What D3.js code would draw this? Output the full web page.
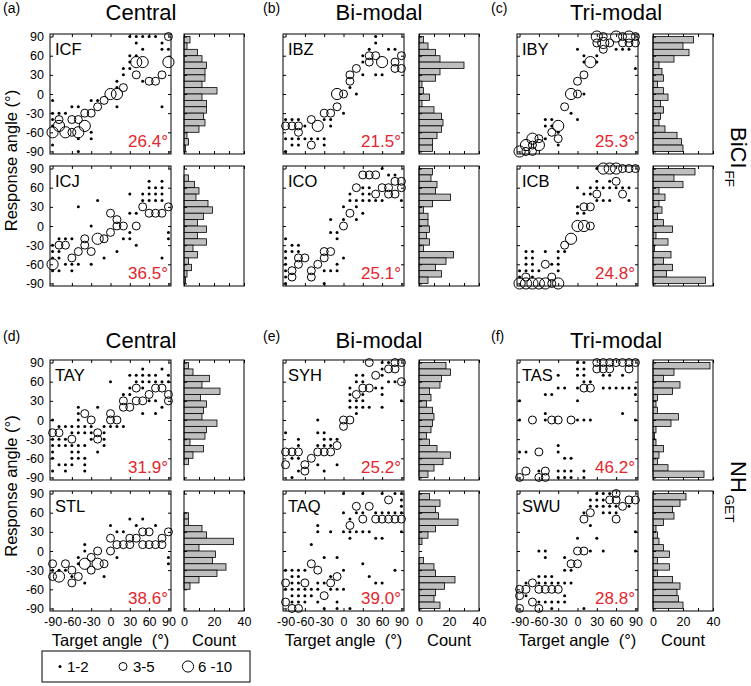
<!DOCTYPE html>
<html><head><meta charset="utf-8">
<script src="https://cdn.jsdelivr.net/npm/d3@7"></script>
<style>body{margin:0;background:#fff} text{font-family:"Liberation Sans",Arial,sans-serif}</style>
</head><body><svg id="c" width="751" height="686"></svg>
<script>
// size class: 1 = 1-2 responses (dot), 2 = 3-5 (medium circle), 3 = 6-10 (large circle)
const pts_ICF = [[30,90,1],[40,90,1],[50,90,1],[60,90,1],[70,90,1],[90,90,2],[40,80,1],[80,80,1],[50,70,1],[80,70,1],[90,70,1],[30,60,1],[40,60,1],[30,50,1],[40,50,3],[50,50,3],[90,50,3],[20,40,1],[30,40,1],[20,30,1],[40,30,2],[80,30,2],[10,20,1],[50,20,1],[60,20,2],[70,20,2],[10,10,1],[20,10,2],[0,0,3],[10,0,3],[-10,-10,2],[-20,-10,1],[-30,-10,1],[-90,-10,1],[10,-20,1],[80,-20,1],[-20,-20,2],[-60,-20,1],[-50,-20,1],[-40,-30,2],[-30,-30,2],[-90,-30,1],[-80,-30,1],[-70,-30,1],[-80,-40,2],[-60,-40,2],[-50,-40,2],[-90,-40,1],[-90,-50,1],[-80,-50,3],[-40,-50,3],[-90,-60,3],[-70,-60,3],[-60,-60,2],[-50,-60,3],[-30,-60,1],[-30,-70,1],[-50,-70,1],[-90,-80,1],[-50,-90,1]];
const pts_ICJ = [[60,70,1],[80,70,1],[60,60,1],[70,60,1],[80,60,1],[30,50,1],[50,50,1],[60,50,1],[70,50,1],[80,50,1],[-20,40,1],[50,40,1],[60,40,1],[70,40,1],[80,40,1],[-50,30,1],[50,30,2],[90,30,2],[60,20,2],[70,20,2],[80,20,2],[0,20,2],[30,20,1],[40,20,1],[10,10,2],[10,0,2],[20,0,2],[40,0,2],[-30,0,1],[0,-10,2],[30,-10,1],[90,-10,1],[90,-20,1],[-20,-20,3],[-10,-20,2],[-40,-20,2],[20,-20,1],[30,-20,1],[-80,-20,1],[-70,-20,1],[-60,-20,1],[-40,-30,2],[-80,-30,2],[-70,-30,2],[40,-30,1],[-90,-30,1],[-50,-40,2],[-30,-40,2],[10,-40,1],[-90,-40,1],[-80,-40,1],[-60,-50,2],[-10,-50,1],[80,-50,1],[-90,-50,1],[-80,-50,1],[-90,-60,3],[-70,-60,1],[-60,-60,1],[-50,-60,1],[-30,-60,1],[-90,-70,1],[-80,-70,1],[-60,-70,1]];
const pts_IBZ = [[50,90,1],[50,80,1],[40,70,1],[70,70,1],[80,70,1],[40,60,2],[50,60,2],[30,60,1],[90,60,2],[60,50,3],[40,50,2],[80,50,2],[30,50,1],[20,40,2],[80,40,2],[90,40,2],[10,30,2],[30,30,1],[50,30,1],[60,30,1],[10,20,2],[10,10,1],[-10,0,3],[0,0,2],[20,0,1],[-10,-20,2],[-20,-30,2],[-30,-30,2],[0,-30,1],[-50,-40,2],[-30,-40,1],[-20,-40,1],[-90,-40,1],[-80,-40,1],[-70,-40,1],[-40,-50,3],[-20,-50,1],[-90,-50,2],[-80,-50,2],[-70,-50,2],[-60,-50,1],[-70,-60,2],[-90,-70,1],[-80,-70,1],[-70,-70,1],[-60,-70,1],[-50,-70,1],[-40,-70,1],[-30,-70,1],[-50,-80,2],[-80,-80,1],[-70,-80,1],[-30,-80,1],[-90,-90,1]];
const pts_ICO = [[60,90,1],[30,80,2],[40,80,2],[50,80,2],[70,80,1],[80,80,1],[80,70,2],[90,70,2],[60,60,2],[70,60,2],[20,60,2],[90,60,2],[30,60,1],[40,60,1],[50,50,2],[70,50,2],[80,50,2],[10,50,1],[30,50,1],[40,50,1],[10,40,1],[20,40,1],[30,40,1],[40,40,1],[50,40,1],[60,40,1],[90,40,1],[0,30,1],[20,30,1],[10,20,2],[30,20,1],[0,10,1],[20,10,1],[-20,10,1],[0,0,2],[-20,-10,1],[-10,-10,1],[-10,-20,1],[-90,-20,1],[-80,-30,1],[-70,-30,1],[-90,-40,1],[-80,-40,1],[-70,-40,1],[-30,-40,2],[-20,-40,2],[-70,-50,2],[-60,-50,2],[-30,-50,2],[-90,-50,1],[0,-50,1],[-70,-60,2],[-40,-60,2],[-90,-60,1],[-10,-60,1],[-80,-70,2],[-50,-70,2],[-90,-70,1],[-10,-70,1],[-20,-70,1],[-30,-70,1],[-80,-80,2],[-50,-80,2],[-90,-80,1],[-30,-90,1],[-90,-90,1]];
const pts_IBY = [[30,90,3],[40,90,2],[60,90,3],[70,90,2],[80,90,3],[90,90,2],[30,80,2],[40,80,3],[50,80,2],[70,80,2],[80,80,2],[90,80,2],[40,70,2],[0,70,1],[60,70,1],[70,70,1],[80,70,1],[10,60,1],[30,60,1],[10,50,1],[30,50,1],[20,50,3],[90,40,1],[10,30,2],[0,20,2],[-10,0,3],[0,0,2],[10,0,1],[-20,-20,2],[-10,-30,1],[0,-40,1],[-50,-40,1],[-40,-40,1],[-30,-50,3],[-50,-50,1],[-40,-50,1],[-40,-60,2],[-30,-60,1],[-70,-70,3],[-60,-70,2],[-30,-70,2],[-50,-70,1],[-60,-80,3],[-80,-80,3],[-70,-80,2],[-30,-80,1],[-90,-90,3],[-80,-90,2],[-70,-90,2]];
const pts_ICB = [[40,90,3],[50,90,3],[60,90,3],[70,90,2],[80,90,2],[90,90,2],[30,90,1],[60,70,2],[30,70,1],[50,70,1],[0,60,1],[20,60,1],[30,60,1],[40,60,1],[50,60,1],[60,60,1],[70,60,1],[80,60,1],[30,50,2],[70,50,2],[10,50,1],[20,50,1],[30,40,1],[40,40,1],[50,40,1],[80,40,1],[10,30,2],[20,30,2],[0,30,1],[0,20,1],[10,20,1],[0,0,3],[10,0,3],[20,0,2],[-10,-20,3],[-20,-30,2],[-30,-40,1],[-20,-40,1],[-30,-50,1],[-80,-40,1],[-70,-40,1],[-50,-40,1],[-80,-50,1],[-70,-50,1],[-50,-60,2],[-80,-60,1],[-70,-60,1],[-40,-60,1],[-30,-60,1],[-90,-70,1],[-80,-70,1],[-70,-70,1],[-60,-70,1],[-30,-70,1],[-80,-80,2],[-40,-80,2],[-90,-80,1],[-70,-80,1],[-90,-90,3],[-80,-90,3],[-70,-90,3],[-60,-90,3],[-50,-90,3],[-40,-90,2],[-30,-90,3]];
const pts_TAY = [[50,80,1],[80,80,1],[30,70,1],[40,70,1],[50,70,1],[60,70,1],[70,70,1],[90,70,1],[0,60,1],[40,60,1],[50,60,1],[60,60,1],[70,60,1],[80,60,1],[90,60,1],[40,50,2],[70,50,2],[80,50,2],[30,50,1],[50,50,1],[60,40,2],[90,40,2],[20,40,1],[30,40,1],[20,30,2],[40,30,2],[50,30,2],[90,30,2],[60,30,1],[70,30,1],[30,20,2],[20,20,2],[80,20,1],[-50,20,1],[-20,20,1],[0,10,2],[-40,10,2],[50,10,1],[70,10,1],[-50,10,1],[10,0,2],[0,0,2],[-30,0,2],[-90,0,1],[-50,0,1],[-10,-10,1],[0,-10,1],[10,-10,1],[20,-10,1],[-80,-10,1],[-70,-10,1],[-60,-10,1],[-50,-10,1],[-40,-10,1],[-30,-10,1],[-90,-20,2],[-80,-20,2],[-20,-20,2],[-60,-20,1],[-50,-20,1],[-40,-20,1],[-30,-20,1],[-10,-20,1],[-60,-30,2],[-20,-30,2],[-90,-30,1],[-80,-30,1],[-70,-30,1],[-30,-30,1],[-10,-30,1],[-90,-40,1],[-80,-40,1],[-70,-40,1],[-60,-40,1],[-50,-40,1],[-40,-40,1],[-10,-40,1],[-90,-50,1],[-60,-50,1],[-50,-50,1],[-20,-50,1],[-90,-60,1],[-60,-60,1],[-50,-60,1],[-40,-60,1],[-80,-70,1],[-70,-70,1],[-60,-70,1],[-40,-70,1],[-90,-80,1],[-70,-80,1],[-40,-80,1]];
const pts_STL = [[30,50,1],[50,50,1],[0,40,1],[40,40,1],[70,40,1],[60,30,2],[50,30,2],[90,30,2],[10,30,1],[20,30,1],[40,20,2],[80,20,2],[30,20,2],[0,20,2],[10,10,2],[20,10,2],[30,10,2],[50,10,2],[60,10,2],[70,10,2],[80,10,2],[-40,10,1],[0,0,2],[-20,0,2],[-40,0,1],[-30,-10,2],[10,-10,1],[90,-10,1],[-50,-10,1],[-40,-20,3],[-20,-20,3],[-10,-20,2],[-90,-20,2],[-70,-20,2],[90,-20,1],[-50,-20,1],[-60,-30,2],[-30,-30,2],[-90,-30,1],[-80,-30,1],[-70,-30,1],[-80,-40,3],[-90,-40,2],[-50,-40,2],[-10,-40,1],[-60,-40,1],[-60,-50,2],[-40,-50,1]];
const pts_SYH = [[40,90,2],[80,90,2],[90,90,2],[60,90,1],[70,90,1],[70,80,2],[80,80,2],[60,80,1],[50,70,2],[20,70,1],[30,70,1],[60,70,1],[90,60,2],[20,60,1],[30,60,1],[70,60,1],[80,60,1],[30,50,2],[40,50,2],[10,50,1],[50,50,1],[60,50,1],[20,40,2],[10,40,1],[30,40,1],[60,40,1],[90,30,1],[10,30,1],[20,30,1],[30,30,1],[10,20,1],[20,20,1],[30,20,1],[40,20,1],[60,20,1],[20,10,1],[0,0,2],[10,0,2],[-40,0,1],[0,-10,2],[-90,-20,1],[-40,-20,1],[-30,-20,1],[-70,-30,1],[-30,-30,1],[-20,-30,1],[-10,-30,1],[-10,-40,2],[-70,-40,1],[-40,-40,1],[-30,-40,1],[-20,-40,1],[-90,-50,2],[-80,-50,2],[-70,-50,2],[-40,-50,2],[-30,-50,2],[-20,-50,2],[-50,-60,2],[-80,-60,1],[-70,-60,1],[-90,-70,2],[-60,-70,2],[-40,-70,1],[-10,-70,1],[-60,-80,2],[-70,-80,1],[-30,-80,1],[-80,-90,1]];
const pts_TAQ = [[0,90,1],[30,90,1],[60,90,1],[80,90,1],[90,90,1],[70,80,2],[90,80,1],[20,70,2],[40,70,2],[90,70,1],[0,60,1],[20,60,1],[30,60,1],[50,60,1],[60,60,1],[70,60,1],[80,60,1],[90,60,1],[30,50,2],[50,50,2],[60,50,2],[70,50,2],[80,50,2],[90,50,2],[10,50,1],[10,40,2],[-40,40,1],[-40,30,1],[-20,30,1],[0,30,1],[10,30,1],[20,30,1],[30,30,1],[40,30,1],[90,30,1],[10,20,1],[50,20,1],[60,20,1],[-50,10,1],[-30,-10,1],[-10,-10,1],[-50,-20,2],[30,-20,1],[-40,-30,2],[80,-30,1],[-90,-30,1],[-80,-30,1],[-70,-30,1],[-60,-30,1],[0,-30,1],[-10,-40,2],[-80,-40,1],[-70,-40,1],[-20,-40,1],[40,-40,1],[-20,-50,2],[-60,-50,2],[-90,-50,2],[-80,-50,1],[-70,-50,1],[-40,-50,1],[-30,-50,1],[50,-50,1],[60,-50,1],[-90,-60,1],[-80,-60,1],[-70,-60,1],[-60,-60,1],[-50,-60,1],[-40,-60,1],[-20,-60,1],[-10,-60,1],[0,-60,1],[-30,-70,2],[-80,-70,1],[-70,-70,1],[-60,-70,1],[-50,-70,1],[-90,-80,2],[-80,-80,1],[-70,-80,1],[-60,-80,1],[-40,-80,1],[-10,-80,1],[-80,-90,2],[-70,-90,2],[-30,-90,1],[-10,-90,1],[10,-90,1]];
const pts_TAS = [[30,90,2],[40,90,2],[50,90,2],[60,90,2],[70,90,2],[80,90,2],[90,90,2],[0,90,1],[10,90,1],[30,80,2],[40,80,2],[50,80,2],[80,80,2],[0,80,1],[10,80,1],[-30,70,1],[0,70,1],[10,70,1],[40,70,1],[50,70,1],[70,70,1],[10,60,1],[20,60,1],[10,50,2],[20,50,2],[-30,50,1],[-20,50,1],[0,50,1],[40,50,1],[50,50,1],[60,50,1],[70,50,1],[80,50,1],[90,50,1],[-50,40,1],[-40,40,1],[90,40,1],[0,30,1],[-90,30,1],[-50,10,1],[70,10,1],[-70,0,2],[-40,0,2],[-30,0,2],[-10,0,2],[-90,0,1],[-50,0,1],[0,0,1],[10,0,1],[20,0,1],[90,0,1],[-30,-40,1],[-60,-50,2],[-90,-50,1],[-80,-50,1],[-30,-50,1],[-20,-60,1],[-10,-60,1],[-80,-80,2],[-50,-80,2],[-60,-80,1],[-30,-80,1],[-20,-80,1],[-10,-80,1],[10,-80,1],[-90,-90,2],[-60,-90,2],[-50,-90,2],[-30,-90,1],[-20,-90,1],[-10,-90,1],[10,-90,1]];
const pts_SWU = [[60,90,2],[30,90,1],[40,90,1],[50,90,1],[50,80,2],[60,80,2],[80,80,2],[90,80,2],[20,80,1],[30,80,1],[40,80,1],[70,70,2],[20,70,1],[30,70,1],[40,70,1],[50,70,1],[60,70,1],[80,70,1],[20,60,2],[10,60,1],[40,60,1],[50,60,1],[60,60,1],[10,50,2],[60,50,2],[20,40,1],[90,30,1],[0,20,1],[30,20,1],[0,0,2],[10,0,2],[20,0,1],[40,0,1],[90,0,1],[-60,0,1],[-50,0,1],[-50,-10,1],[-20,-10,1],[-10,-20,2],[0,-20,2],[-20,-30,1],[-10,-30,1],[-60,-40,1],[-50,-40,1],[-40,-40,1],[-70,-50,2],[-80,-50,1],[-60,-50,1],[-50,-50,1],[-40,-50,1],[-30,-50,1],[-20,-50,1],[-10,-50,1],[-90,-60,2],[-80,-60,2],[-60,-60,2],[-50,-60,2],[-40,-60,2],[-30,-60,2],[-90,-70,2],[-80,-70,1],[-20,-70,1],[-70,-80,2],[-60,-80,1],[-50,-80,1],[-40,-80,1],[-30,-80,1],[-20,-80,1],[-90,-90,2],[-60,-90,2],[-40,-90,1],[10,-90,1]];

// histogram counts, 10-degree bins from top (80..90) to bottom (-90..-80)
const hist_ICF = [4,2,9,12,15,14,14,12,22,12,15,15,13,14,10,2,3,1];
const hist_ICJ = [0,3,7,10,8,16,19,13,9,15,9,15,6,9,3,5,2,1];
const hist_IBZ = [3,6,11,14,30,14,11,2,3,7,2,10,15,16,15,12,9,9];
const hist_ICO = [9,8,12,11,21,9,3,6,6,7,5,7,3,23,18,11,15,6];
const hist_IBY = [27,20,24,14,4,6,7,3,7,10,5,7,5,4,8,16,19,20];
const hist_ICB = [28,14,20,4,8,4,6,3,7,13,2,10,1,12,7,13,9,35];
const hist_TAY = [3,6,17,12,24,11,15,13,12,22,15,14,4,13,6,3,0,0];
const hist_STL = [0,0,0,3,3,12,15,33,10,21,19,28,22,10,4,0,0,0];
const hist_SYH = [18,21,15,14,7,8,5,9,10,9,8,5,7,12,21,16,10,6];
const hist_TAQ = [7,14,11,13,26,11,6,2,0,0,3,10,11,24,17,11,10,14];
const hist_TAS = [38,14,7,18,13,3,2,3,17,12,2,1,2,7,4,3,10,34];
const hist_SWU = [22,18,13,14,7,2,3,4,7,11,3,11,3,13,18,16,17,20];

const subjects = ["ICF","ICJ","IBZ","ICO","IBY","ICB","TAY","STL","SYH","TAQ","TAS","SWU"];
const errors = [26.4,36.5,21.5,25.1,25.3,24.8,31.9,38.6,25.2,39.0,46.2,28.8];
const angleTicks = [-90,-60,-30,0,30,60,90];
const countTicks = [0,10,20,30,40];
const titles = ["Central","Bi-modal","Tri-modal"];
const letters = [["(a)","(b)","(c)"],["(d)","(e)","(f)"]];
const legendLabels = ["1-2","3-5","6 -10"];

const ptsBy = {ICF:pts_ICF,ICJ:pts_ICJ,IBZ:pts_IBZ,ICO:pts_ICO,IBY:pts_IBY,ICB:pts_ICB,TAY:pts_TAY,STL:pts_STL,SYH:pts_SYH,TAQ:pts_TAQ,TAS:pts_TAS,SWU:pts_SWU};
const histBy = {ICF:hist_ICF,ICJ:hist_ICJ,IBZ:hist_IBZ,ICO:hist_ICO,IBY:hist_IBY,ICB:hist_ICB,TAY:hist_TAY,STL:hist_STL,SYH:hist_SYH,TAQ:hist_TAQ,TAS:hist_TAS,SWU:hist_SWU};

const svg = d3.select("#c");
const FONT = '"Liberation Sans",Arial,sans-serif';
const colX=[50,283,517], histX=[184,419,653], rowY=[34,166,360,491];
const W=121,H=120,HW=60;
const x=d3.scaleLinear().domain([-94,94]).range([0,W]);
const y=d3.scaleLinear().domain([-94,94]).range([H,0]);
const hx=d3.scaleLinear().domain([0,40]).range([0,HW]);
const r=d3.scaleOrdinal().domain([1,2,3]).range([1.5,4,5.6]);
const binTops=d3.range(90,-90,-10);

function styleAxis(sel){
  sel.attr("font-size",12.5).attr("font-family",FONT);
  sel.selectAll("line").attr("stroke","#000");
  sel.select(".domain").remove();
}

subjects.forEach((s,i)=>{
  const col = Math.floor((i%6)/2);
  const row = (i>=6?2:0) + (i%2);
  const isBottomRow = (row===3);
  const g = svg.append("g").attr("transform",`translate(${colX[col]},${rowY[row]})`);
  g.append("g").attr("transform",`translate(0,${H})`)
    .call(d3.axisBottom(x).tickValues(angleTicks).tickSize(-3).tickPadding(6).tickFormat(isBottomRow? d=>d : ()=>""))
    .call(styleAxis);
  g.append("g").call(d3.axisTop(x).tickValues(angleTicks).tickSize(-3).tickFormat(()=>"")).call(styleAxis);
  g.append("g").call(d3.axisLeft(y).tickValues(angleTicks).tickSize(-3).tickPadding(6).tickFormat(col===0? d=>d : ()=>"")).call(styleAxis);
  g.append("g").attr("transform",`translate(${W},0)`).call(d3.axisRight(y).tickValues(angleTicks).tickSize(-3).tickFormat(()=>"")).call(styleAxis);
  const pts = ptsBy[s];
  g.selectAll("circle.p").data(pts).join("circle")
    .attr("cx",d=>x(d[0])).attr("cy",d=>y(d[1])).attr("r",d=>r(d[2]))
    .attr("fill",d=>d[2]===1?"#000":"none").attr("stroke","#000").attr("stroke-width",d=>d[2]===1?0:1);
  g.append("rect").attr("width",W).attr("height",H).attr("fill","none").attr("stroke","#000").attr("stroke-width",1);
  g.append("text").attr("x",5).attr("y",21).attr("font-size",16.5).attr("font-family",FONT).text(s);
  g.append("text").attr("x",W-3).attr("y",H-7).attr("text-anchor","end").attr("font-size",17)
    .attr("font-family",FONT).attr("fill","#e3262d").text(errors[i].toFixed(1)+"°");

  const h = svg.append("g").attr("transform",`translate(${histX[col]},${rowY[row]})`);
  const hd = histBy[s].map((c,k)=>({c,top:binTops[k]})).filter(d=>d.c>0);
  h.selectAll("rect.b").data(hd).join("rect")
    .attr("x",0).attr("y",d=>y(d.top)).attr("width",d=>hx(d.c)).attr("height",d=>y(d.top-10)-y(d.top))
    .attr("fill","#bfbfbf").attr("stroke","#000").attr("stroke-width",0.8);
  h.append("g").attr("transform",`translate(0,${H})`)
    .call(d3.axisBottom(hx).tickValues(countTicks).tickSize(-3).tickPadding(6).tickFormat(d=> isBottomRow && d%20===0 ? d : ""))
    .call(styleAxis);
  h.append("g").call(d3.axisTop(hx).tickValues(countTicks).tickSize(-3).tickFormat(()=>"")).call(styleAxis);
  h.append("g").call(d3.axisLeft(y).tickValues(angleTicks).tickSize(-3).tickFormat(()=>"")).call(styleAxis);
  h.append("rect").attr("width",HW).attr("height",H).attr("fill","none").attr("stroke","#000").attr("stroke-width",1);

  if(isBottomRow){
    svg.append("text").attr("x",colX[col]+W/2).attr("y",646).attr("text-anchor","middle").attr("font-size",16.5)
      .attr("font-family",FONT).style("white-space","pre").text("Target angle  (°)");
    svg.append("text").attr("x",histX[col]+HW/2).attr("y",646).attr("text-anchor","middle").attr("font-size",16.5)
      .attr("font-family",FONT).text("Count");
  }
});

const titleX=[141,379,616];
[20,348].forEach(ty=>{
  titles.forEach((t,c)=>{
    svg.append("text").attr("x",titleX[c]).attr("y",ty).attr("text-anchor","middle").attr("font-size",22).attr("font-family",FONT).text(t);
  });
});
const letterX=[3,263,491];
[13,341].forEach((ly,gi)=>{
  letters[gi].forEach((l,c)=>{
    svg.append("text").attr("x",letterX[c]).attr("y",ly).attr("font-size",14).attr("font-family",FONT).text(l);
  });
});
[ (34+287)/2, (360+612)/2 ].forEach(cy=>{
  svg.append("text").attr("transform",`translate(17,${cy}) rotate(-90)`).attr("text-anchor","middle")
    .attr("font-size",16.5).attr("font-family",FONT).text("Response angle (°)");
});
function groupLabel(x0,y0,main,sub){
  const t=svg.append("text").attr("transform",`translate(${x0},${y0}) rotate(90)`).attr("font-family",FONT).attr("fill","#000");
  t.append("tspan").attr("font-size",22).text(main);
  t.append("tspan").attr("font-size",13.5).attr("dy",6).attr("dx",2).text(sub);
}
groupLabel(731,127,"BiCI","FF");
groupLabel(731,461,"NH","GET");

const lg=svg.append("g");
lg.append("rect").attr("x",42).attr("y",651).attr("width",208).attr("height",31).attr("fill","none").attr("stroke","#000");
const legX=[60,123,188];
[1,2,3].forEach((k,i)=>{
  lg.append("circle").attr("cx",legX[i]).attr("cy",666.5).attr("r",r(k)).attr("fill",k===1?"#000":"none").attr("stroke","#000").attr("stroke-width",k===1?0:1);
  lg.append("text").attr("x",legX[i]+ (k===1?7:10)).attr("y",672).attr("font-size",15).attr("font-family",FONT).style("white-space","pre").text(legendLabels[i]);
});
</script></body></html>
